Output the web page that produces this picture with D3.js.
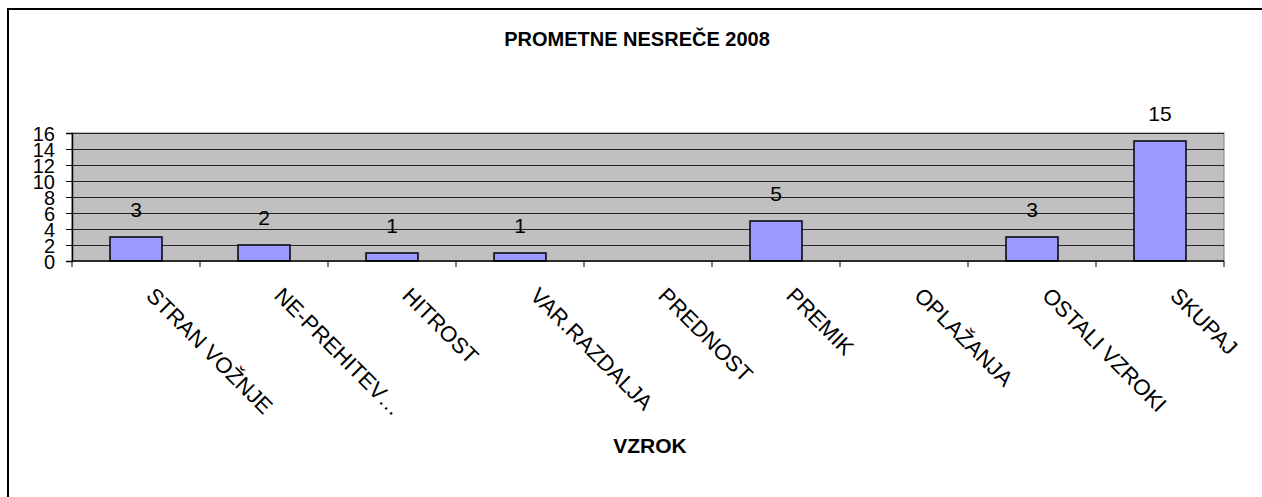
<!DOCTYPE html>
<html>
<head>
<meta charset="utf-8">
<script src="https://cdn.jsdelivr.net/npm/d3@7.9.0/dist/d3.min.js"></script>
<style>
  body { margin: 0; background: #fff; }
  svg { display: block; font-family: "Liberation Sans", Arial, sans-serif; }
</style>
</head>
<body>
<svg id="chart" width="1262" height="497"></svg>
<script>
// ── data ───────────────────────────────────────────────
const categories = ['STRAN VOŽNJE', 'NE-PREHITEV…', 'HITROST', 'VAR.RAZDALJA',
                    'PREDNOST', 'PREMIK', 'OPLAŽANJA', 'OSTALI VZROKI', 'SKUPAJ'];
const values     = [3, 2, 1, 1, null, 5, null, 3, 15];
const yTicks     = [0, 2, 4, 6, 8, 10, 12, 14, 16];
const title      = 'PROMETNE NESREČE 2008';
const xTitle     = 'VZROK';

const rows = categories.map((c, i) => ({ cat: c, value: values[i] }));

// ── layout ─────────────────────────────────────────────
const W = 1262, H = 497;
const plot = { left: 72, right: 1224, top: 133, bottom: 261 };

const svg = d3.select('#chart');

// outer chart border
svg.append('rect')
   .attr('x', 8).attr('y', 9)
   .attr('width', W).attr('height', H)
   .attr('fill', 'none')
   .attr('stroke', '#000')
   .attr('stroke-width', 2);

// scales
const x = d3.scaleBand()
            .domain(categories)
            .range([plot.left, plot.right])
            .paddingInner(0.594)
            .paddingOuter(0.297);

const xEdge = d3.scaleLinear()
                .domain([0, categories.length])
                .range([plot.left, plot.right]);

const y = d3.scaleLinear()
            .domain([0, 16])
            .range([plot.bottom, plot.top]);

// plot background
svg.append('rect')
   .attr('x', plot.left).attr('y', plot.top)
   .attr('width', plot.right - plot.left)
   .attr('height', plot.bottom - plot.top)
   .attr('fill', '#c0c0c0')
   .attr('stroke', '#808080')
   .attr('stroke-width', 1);

// gridlines
svg.append('g')
   .selectAll('line')
   .data(yTicks.filter(d => d > 0))
   .join('line')
     .attr('x1', plot.left).attr('x2', plot.right)
     .attr('y1', d => y(d) + 0.5).attr('y2', d => y(d) + 0.5)
     .attr('stroke', '#222')
     .attr('stroke-width', 1);

// bars
svg.append('g')
   .selectAll('rect')
   .data(rows.filter(d => d.value))
   .join('rect')
     .attr('x', d => x(d.cat))
     .attr('y', d => y(d.value))
     .attr('width', x.bandwidth())
     .attr('height', d => y(0) - y(d.value))
     .attr('fill', '#9999ff')
     .attr('stroke', '#000')
     .attr('stroke-width', 1.5);

// value labels
svg.append('g')
   .selectAll('text')
   .data(rows.filter(d => d.value))
   .join('text')
     .attr('x', d => x(d.cat) + x.bandwidth() / 2)
     .attr('y', d => y(d.value) - 20)
     .attr('text-anchor', 'middle')
     .attr('font-size', 21)
     .text(d => d.value);

// y axis (labels overlap in the original too)
const yAxis = svg.append('g')
   .attr('transform', `translate(${plot.left},0)`)
   .call(d3.axisLeft(y).tickValues(yTicks).tickSize(6).tickPadding(11));
yAxis.select('.domain').attr('stroke', '#000').attr('stroke-width', 1.5);
yAxis.selectAll('.tick line').attr('stroke', '#000');
yAxis.selectAll('.tick text')
     .attr('font-size', 20)
     .attr('font-family', '"Liberation Sans", Arial, sans-serif')
     .attr('fill', '#000')
     .attr('dy', '0.36em');

// x axis line + boundary ticks
svg.append('line')
   .attr('x1', plot.left).attr('x2', plot.right)
   .attr('y1', plot.bottom).attr('y2', plot.bottom)
   .attr('stroke', '#000').attr('stroke-width', 1.5);

svg.append('g')
   .selectAll('line')
   .data(d3.range(categories.length + 1))
   .join('line')
     .attr('x1', d => xEdge(d)).attr('x2', d => xEdge(d))
     .attr('y1', plot.bottom).attr('y2', plot.bottom + 6)
     .attr('stroke', '#000');

// rotated category labels
svg.append('g')
   .selectAll('text')
   .data(categories)
   .join('text')
     .attr('transform', d => `translate(${x(d) + x.bandwidth() / 2 + 9},297) rotate(45)`)
     .attr('font-size', 22)
     .text(d => d);

// titles
svg.append('text')
   .attr('x', 637).attr('y', 46)
   .attr('text-anchor', 'middle')
   .attr('font-size', 20)
   .attr('font-weight', 'bold')
   .text(title);

svg.append('text')
   .attr('x', 650).attr('y', 453)
   .attr('text-anchor', 'middle')
   .attr('font-size', 21)
   .attr('font-weight', 'bold')
   .text(xTitle);
</script>
</body>
</html>
